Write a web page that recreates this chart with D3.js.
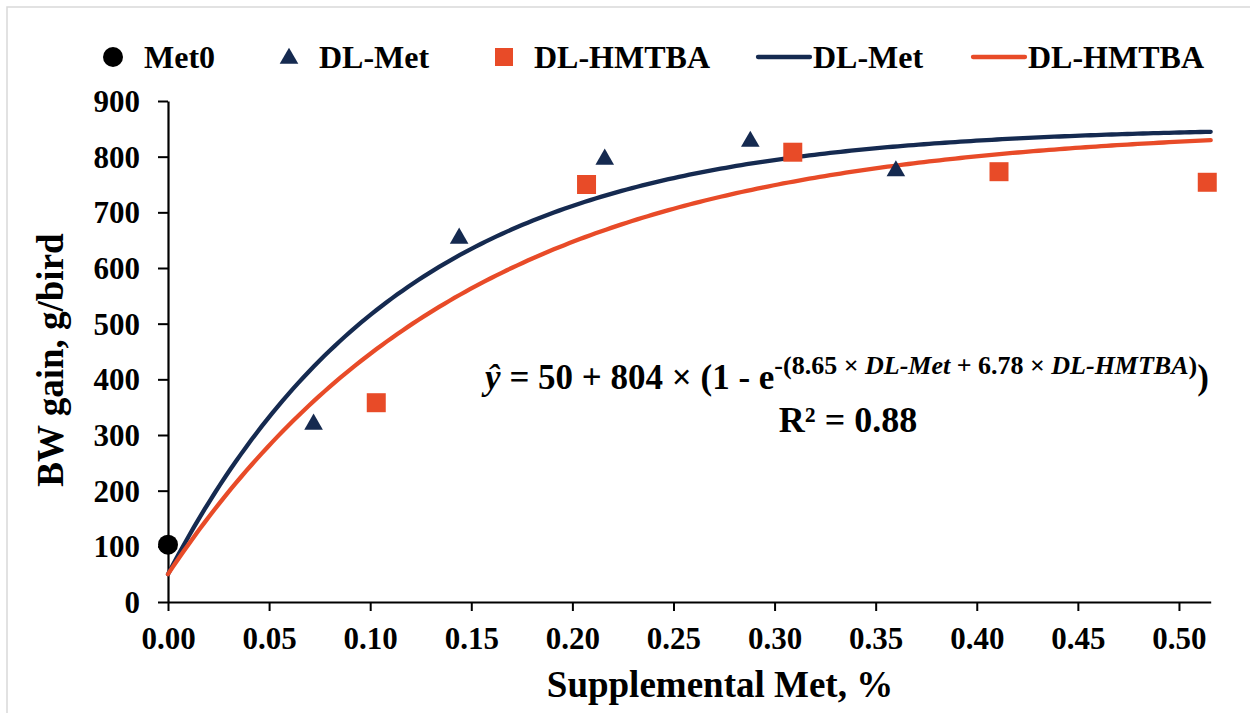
<!DOCTYPE html>
<html>
<head>
<meta charset="utf-8">
<script src="https://cdn.jsdelivr.net/npm/d3@7"></script>
<style>
  html, body { margin: 0; padding: 0; background: #fff; }
  svg { display: block; font-family: "Liberation Serif", "Times New Roman", serif; font-weight: bold; }
</style>
</head>
<body>
<svg id="chart" width="1250" height="713"></svg>
<script>
// ---- data ----
const met0X = [0];
const met0Y = [103];
const dlMetX = [0.072, 0.144, 0.216, 0.288, 0.360];
const dlMetY = [322, 656, 798, 830, 777];
const hmtbaX = [0.103, 0.207, 0.309, 0.411, 0.514];
const hmtbaY = [358, 750, 808, 773, 754];
// fitted model parameters (shown on the chart)
const fitA = 50, fitB = 804, fitKMet = 8.65, fitKHmtba = 6.78;
const xTicks = [0, 0.05, 0.10, 0.15, 0.20, 0.25, 0.30, 0.35, 0.40, 0.45, 0.50];
const yTicks = [0, 100, 200, 300, 400, 500, 600, 700, 800, 900];
const legendLabels = ["Met0", "DL-Met", "DL-HMTBA", "DL-Met", "DL-HMTBA"];

const NAVY = "#152a50", ORANGE = "#e84b28";

const svg = d3.select("#chart");
// outer frame
svg.append("rect").attr("x", 7).attr("y", 7).attr("width", 1260).attr("height", 720)
  .attr("fill", "none").attr("stroke", "#d9d9d9").attr("stroke-width", 1.5);

const x = d3.scaleLinear().domain([0, 0.5157]).range([168, 1210.7]);
const y = d3.scaleLinear().domain([0, 900]).range([602, 101]);

// axes
const xAxis = d3.axisBottom(x).tickValues(xTicks).tickFormat(d3.format(".2f")).tickSize(9).tickSizeOuter(0).tickPadding(8);
const yAxis = d3.axisLeft(y).tickValues(yTicks).tickFormat(d3.format("d")).tickSize(10).tickSizeOuter(0).tickPadding(18);

const gx = svg.append("g").attr("transform", `translate(0,${y(0)})`).call(xAxis);
const gy = svg.append("g").attr("transform", `translate(${x(0)},0)`).call(yAxis);
[gx, gy].forEach(g => {
  g.select(".domain").attr("stroke", "#000").attr("stroke-width", 2.2);
  g.selectAll(".tick line").attr("stroke", "#000").attr("stroke-width", 2);
  g.selectAll(".tick text").attr("fill", "#000").attr("font-family", "Liberation Serif, serif")
    .attr("font-weight", "bold").attr("font-size", 31);
});
gx.selectAll(".tick text").attr("dy", null).attr("y", 47);
gy.selectAll(".tick text").attr("dy", "0.34em");

// axis titles
svg.append("text").attr("x", 720).attr("y", 697).attr("text-anchor", "middle")
  .attr("font-size", 37).text("Supplemental Met, %");
svg.append("text").attr("transform", "translate(63,360) rotate(-90)").attr("text-anchor", "middle")
  .attr("font-size", 37).text("BW gain, g/bird");

// fitted curves
function curveData(k) {
  const n = 200, xs = d3.range(n + 1).map(i => i / n * x.domain()[1]);
  return xs.map(v => [v, fitA + fitB * (1 - Math.exp(-k * v))]);
}
const line = d3.line().x(d => x(d[0])).y(d => y(d[1])).curve(d3.curveLinear);
svg.append("path").datum(curveData(fitKMet)).attr("d", line).attr("fill", "none")
  .attr("stroke", NAVY).attr("stroke-width", 4.3).attr("stroke-linecap", "round");
svg.append("path").datum(curveData(fitKHmtba)).attr("d", line).attr("fill", "none")
  .attr("stroke", ORANGE).attr("stroke-width", 4.3).attr("stroke-linecap", "round");

// markers
const triSym = d3.symbol().type(d3.symbolTriangle).size(150);
const sqSym = d3.symbol().type(d3.symbolSquare).size(361);
svg.append("g").selectAll("circle").data(met0X.map((v, i) => [v, met0Y[i]])).join("circle")
  .attr("cx", d => x(d[0])).attr("cy", d => y(d[1])).attr("r", 10).attr("fill", "#000");
svg.append("g").selectAll("path").data(dlMetX.map((v, i) => [v, dlMetY[i]])).join("path")
  .attr("d", triSym).attr("transform", d => `translate(${x(d[0])},${y(d[1]) + 1.5})`).attr("fill", NAVY);
svg.append("g").selectAll("path").data(hmtbaX.map((v, i) => [v, hmtbaY[i]])).join("path")
  .attr("d", sqSym).attr("transform", d => `translate(${x(d[0])},${y(d[1])})`).attr("fill", ORANGE);

// legend
const lg = svg.append("g");
const ly = 57;
lg.append("circle").attr("cx", 113).attr("cy", ly).attr("r", 10).attr("fill", "#000");
lg.append("path").attr("d", triSym).attr("transform", `translate(289,${ly + 1.5})`).attr("fill", NAVY);
lg.append("path").attr("d", d3.symbol().type(d3.symbolSquare).size(324)).attr("transform", `translate(504,${ly})`).attr("fill", ORANGE);
lg.append("line").attr("x1", 758).attr("x2", 810).attr("y1", ly).attr("y2", ly)
  .attr("stroke", NAVY).attr("stroke-width", 4.3).attr("stroke-linecap", "round");
lg.append("line").attr("x1", 973).attr("x2", 1025).attr("y1", ly).attr("y2", ly)
  .attr("stroke", ORANGE).attr("stroke-width", 4.3).attr("stroke-linecap", "round");
const legX = [144, 319, 534, 813, 1028];
legendLabels.forEach((t, i) => {
  lg.append("text").attr("x", legX[i]).attr("y", 68).attr("font-size", 32).text(t);
});

// equation
const eq = svg.append("text").attr("x", 847).attr("y", 389).attr("text-anchor", "middle").attr("font-size", 35);
eq.append("tspan").attr("font-style", "italic").text("ŷ");
eq.append("tspan").text(` = ${fitA} + ${fitB} × (1 - e`);
const sup = [
  ["-(" + fitKMet.toFixed(2) + " × ", false],
  ["DL-Met", true],
  [" + " + fitKHmtba.toFixed(2) + " × ", false],
  ["DL-HMTBA", true],
  [")", false]
];
sup.forEach((s, i) => {
  const ts = eq.append("tspan").attr("font-size", 26).text(s[0]);
  if (s[1]) ts.attr("font-style", "italic");
  if (i === 0) ts.attr("dy", -15);
});
eq.append("tspan").attr("dy", 15).text(")");
svg.append("text").attr("x", 848).attr("y", 432).attr("text-anchor", "middle").attr("font-size", 36)
  .text("R² = 0.88");
</script>
</body>
</html>
